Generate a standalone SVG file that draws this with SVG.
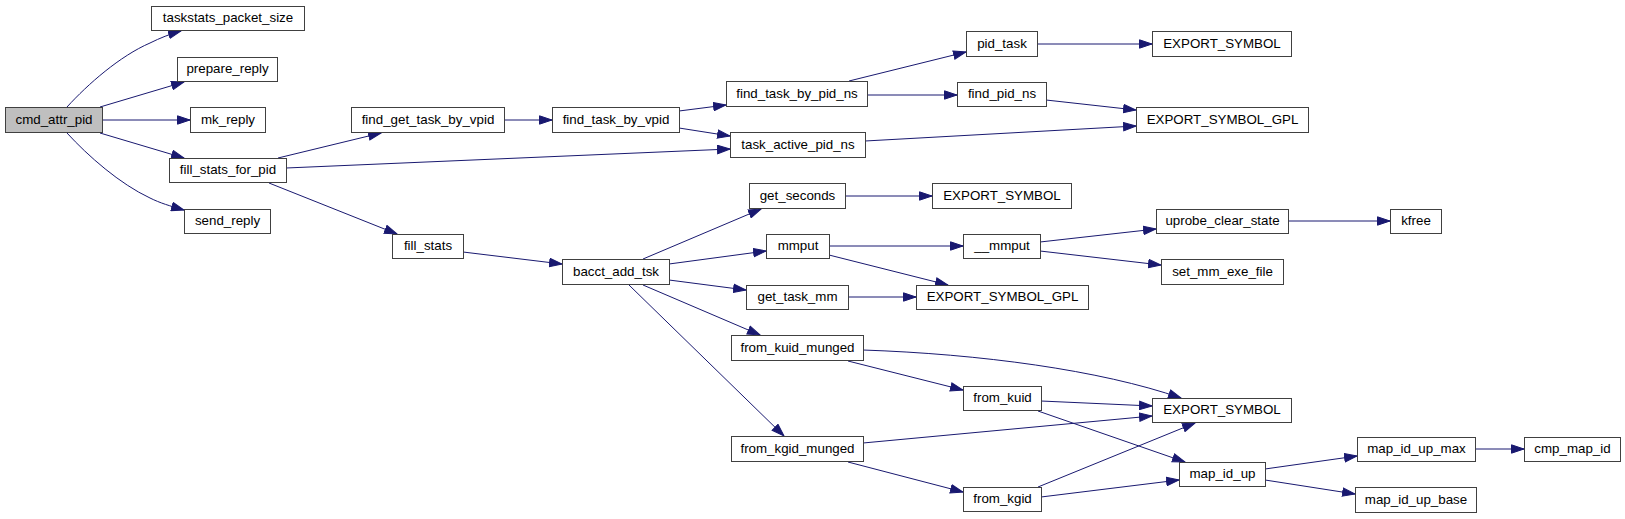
<svg xmlns="http://www.w3.org/2000/svg" width="1625" height="519" viewBox="0 0 1625 519">
<style>
.n rect{fill:#ffffff;stroke:#404040;stroke-width:1}
.n.root rect{fill:#bfbfbf}
.n text{font-family:"Liberation Sans",Arial,sans-serif;font-size:13.33px;fill:#000;text-anchor:middle}
</style>
<defs>
<marker id="arr" markerUnits="userSpaceOnUse" markerWidth="14" markerHeight="10" viewBox="0 0 14 10" refX="13" refY="5" orient="auto">
<path d="M0.5,0.8 L13,5 L0.5,9.2 z" fill="#191970" stroke="#191970" stroke-width="1"/>
</marker>
</defs>
<rect width="1625" height="519" fill="#ffffff"/>
<g id="edges" fill="none" stroke="#191970" stroke-width="1" marker-end="url(#arr)">
<path d="M67,107 C88,84 120,56 150,43 C160,38 170,34 181,31"/>
<path d="M100,107 L184,82"/>
<path d="M102,120 L190,120"/>
<path d="M100,133 L184,158"/>
<path d="M67,133 C88,156 120,184 150,198 C160,203 170,206 184,210"/>
<path d="M278,158 L381,133"/>
<path d="M286,168 L730,149"/>
<path d="M269,183 L397,234"/>
<path d="M463,252 L562,264"/>
<path d="M504,120 L552,120"/>
<path d="M679,111 L726,105"/>
<path d="M679,128 L730,136"/>
<path d="M849,81 L966,52"/>
<path d="M867,95 L957,95"/>
<path d="M1037,44 L1152,44"/>
<path d="M1046,100 L1136,110"/>
<path d="M865,141 L1136,126"/>
<path d="M643,259 L761,209"/>
<path d="M669,264 L766,251"/>
<path d="M669,280 L746,290"/>
<path d="M643,285 L760,335"/>
<path d="M629,285 L784,436"/>
<path d="M845,196 L932,196"/>
<path d="M829,246 L963,246"/>
<path d="M829,255 L948,285"/>
<path d="M848,297 L916,297"/>
<path d="M1040,242 L1156,229"/>
<path d="M1040,251 L1161,265"/>
<path d="M1288,221 L1390,221"/>
<path d="M863,350 C980,354 1100,370 1181,398"/>
<path d="M848,361 L963,390"/>
<path d="M1041,401 L1152,406"/>
<path d="M1038,411 L1185,462"/>
<path d="M863,443 L1152,416"/>
<path d="M848,462 L963,492"/>
<path d="M1038,487 L1195,423"/>
<path d="M1041,497 L1179,480"/>
<path d="M1265,469 L1357,456"/>
<path d="M1265,480 L1355,494"/>
<path d="M1475,449 L1524,449"/>
</g>
<g id="cmd_attr_pid" class="n root"><rect x="5.5" y="107.5" width="97" height="25"/><text x="54" y="123.5">cmd_attr_pid</text></g>
<g id="taskstats_packet_size" class="n"><rect x="151.5" y="6.5" width="153" height="24"/><text x="228" y="22">taskstats_packet_size</text></g>
<g id="prepare_reply" class="n"><rect x="177.5" y="57.5" width="100" height="24"/><text x="227.5" y="73">prepare_reply</text></g>
<g id="mk_reply" class="n"><rect x="190.5" y="107.5" width="75" height="25"/><text x="228" y="123.5">mk_reply</text></g>
<g id="fill_stats_for_pid" class="n"><rect x="169.5" y="158.5" width="117" height="24"/><text x="228" y="174">fill_stats_for_pid</text></g>
<g id="send_reply" class="n"><rect x="184.5" y="209.5" width="86" height="24"/><text x="227.5" y="225">send_reply</text></g>
<g id="find_get_task_by_vpid" class="n"><rect x="351.5" y="107.5" width="153" height="25"/><text x="428" y="123.5">find_get_task_by_vpid</text></g>
<g id="find_task_by_vpid" class="n"><rect x="552.5" y="107.5" width="127" height="25"/><text x="616" y="123.5">find_task_by_vpid</text></g>
<g id="find_task_by_pid_ns" class="n"><rect x="726.5" y="81.5" width="141" height="25"/><text x="797" y="97.5">find_task_by_pid_ns</text></g>
<g id="task_active_pid_ns" class="n"><rect x="730.5" y="132.5" width="135" height="25"/><text x="798" y="148.5">task_active_pid_ns</text></g>
<g id="pid_task" class="n"><rect x="966.5" y="31.5" width="71" height="25"/><text x="1002" y="47.5">pid_task</text></g>
<g id="EXPORT_SYMBOL_1" class="n"><rect x="1152.5" y="31.5" width="139" height="25"/><text x="1222" y="47.5">EXPORT_SYMBOL</text></g>
<g id="find_pid_ns" class="n"><rect x="957.5" y="82.5" width="89" height="24"/><text x="1002" y="98">find_pid_ns</text></g>
<g id="EXPORT_SYMBOL_GPL_1" class="n"><rect x="1136.5" y="107.5" width="172" height="25"/><text x="1222.5" y="123.5">EXPORT_SYMBOL_GPL</text></g>
<g id="fill_stats" class="n"><rect x="392.5" y="234.5" width="71" height="24"/><text x="428" y="250">fill_stats</text></g>
<g id="bacct_add_tsk" class="n"><rect x="562.5" y="259.5" width="107" height="25"/><text x="616" y="275.5">bacct_add_tsk</text></g>
<g id="get_seconds" class="n"><rect x="749.5" y="183.5" width="96" height="25"/><text x="797.5" y="199.5">get_seconds</text></g>
<g id="EXPORT_SYMBOL_2" class="n"><rect x="932.5" y="183.5" width="139" height="25"/><text x="1002" y="199.5">EXPORT_SYMBOL</text></g>
<g id="mmput" class="n"><rect x="766.5" y="234.5" width="63" height="24"/><text x="798" y="250">mmput</text></g>
<g id="__mmput" class="n"><rect x="963.5" y="234.5" width="77" height="24"/><text x="1002" y="250">__mmput</text></g>
<g id="uprobe_clear_state" class="n"><rect x="1156.5" y="209.5" width="132" height="24"/><text x="1222.5" y="225">uprobe_clear_state</text></g>
<g id="kfree" class="n"><rect x="1390.5" y="209.5" width="51" height="24"/><text x="1416" y="225">kfree</text></g>
<g id="set_mm_exe_file" class="n"><rect x="1161.5" y="259.5" width="122" height="25"/><text x="1222.5" y="275.5">set_mm_exe_file</text></g>
<g id="get_task_mm" class="n"><rect x="746.5" y="285.5" width="102" height="24"/><text x="797.5" y="301">get_task_mm</text></g>
<g id="EXPORT_SYMBOL_GPL_2" class="n"><rect x="916.5" y="285.5" width="172" height="24"/><text x="1002.5" y="301">EXPORT_SYMBOL_GPL</text></g>
<g id="from_kuid_munged" class="n"><rect x="731.5" y="335.5" width="132" height="25"/><text x="797.5" y="351.5">from_kuid_munged</text></g>
<g id="from_kuid" class="n"><rect x="963.5" y="386.5" width="78" height="24"/><text x="1002.5" y="402">from_kuid</text></g>
<g id="EXPORT_SYMBOL_3" class="n"><rect x="1152.5" y="398.5" width="139" height="24"/><text x="1222" y="414">EXPORT_SYMBOL</text></g>
<g id="from_kgid_munged" class="n"><rect x="731.5" y="436.5" width="132" height="25"/><text x="797.5" y="452.5">from_kgid_munged</text></g>
<g id="from_kgid" class="n"><rect x="963.5" y="487.5" width="78" height="24"/><text x="1002.5" y="503">from_kgid</text></g>
<g id="map_id_up" class="n"><rect x="1179.5" y="462.5" width="86" height="24"/><text x="1222.5" y="478">map_id_up</text></g>
<g id="map_id_up_max" class="n"><rect x="1357.5" y="437.5" width="118" height="24"/><text x="1416.5" y="453">map_id_up_max</text></g>
<g id="cmp_map_id" class="n"><rect x="1524.5" y="437.5" width="96" height="24"/><text x="1572.5" y="453">cmp_map_id</text></g>
<g id="map_id_up_base" class="n"><rect x="1355.5" y="487.5" width="121" height="25"/><text x="1416" y="503.5">map_id_up_base</text></g>
</svg>
